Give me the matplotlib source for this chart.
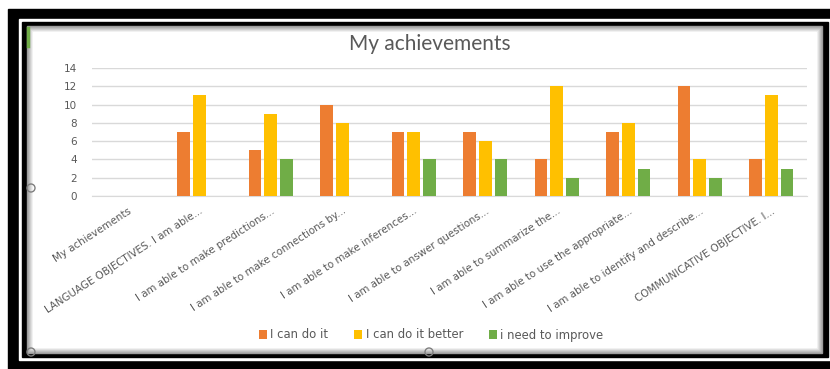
import numpy as np
import matplotlib.pyplot as plt
from matplotlib.patches import Rectangle, Circle

# datos
categorias = ["My achievements",
              "LANGUAGE OBJECTIVES. I am able...",
              "I am able to make predictions...",
              "I am able to make connections by...",
              "I am able to make inferences...",
              "I am able to answer questions...",
              "I am able to summarize the...",
              "I am able to use the appropriate...",
              "I am able to identify and describe...",
              "COMMUNICATIVE OBJECTIVE. I..."]
can_do = [0, 7, 5, 10, 7, 7, 4, 7, 12, 4]
can_do_better = [0, 11, 9, 8, 7, 6, 12, 8, 4, 11]
need_improve = [0, 0, 4, 0, 4, 4, 2, 3, 2, 3]
series_names = ["I can do it", "I can do it better", "i need to improve"]
colores = ["#ED7D31", "#FFC000", "#70AD47"]

W, H = 830, 369
fig = plt.figure(figsize=(W / 100, H / 100), dpi=100)
fig.patch.set_facecolor("white")

# marco (coordenadas en pixeles)
bg = fig.add_axes([0, 0, 1, 1])
bg.set_xlim(0, W)
bg.set_ylim(H, 0)
bg.axis("off")
bg.add_patch(Rectangle((8, 9), W - 8, H - 9, color="black"))
bg.add_patch(Rectangle((19, 19), W - 19, 341, color="white"))
bg.add_patch(Rectangle((22, 22), 806, 335, color="black"))
# sombra del grafico
for i, g in enumerate(np.linspace(0.6, 1.0, 7)):
    bg.add_patch(Rectangle((27 + i, 26 + i), 795 - 2 * i, 327 - 2 * i,
                           color=(g, g, g)))
bg.add_patch(Rectangle((34, 33), 781, 313, color="white"))
bg.plot([28, 28], [28, 46], color="#70AD47", lw=2.5)
for cx, cy in [(31, 188), (31, 352), (429, 352)]:
    bg.add_patch(Circle((cx, cy), 4, fill=False, ec="#7f7f7f", lw=1))

ax = fig.add_axes([92 / W, 1 - 196 / H, (807 - 92) / W, (196 - 68) / H])
ax.set_facecolor("none")
x = np.arange(len(categorias))
w = 0.18
off = 0.22
for k, vals in enumerate([can_do, can_do_better, need_improve]):
    ax.bar(x + (k - 1) * off, vals, w, color=colores[k], label=series_names[k],
           zorder=3)

ax.set_xlim(-0.5, len(categorias) - 0.5)
ax.set_ylim(0, 14)
ax.set_yticks(range(0, 15, 2))
ax.yaxis.grid(True, color="#d9d9d9", lw=1)
ax.set_axisbelow(True)
for s in ["top", "right", "left"]:
    ax.spines[s].set_visible(False)
ax.spines["bottom"].set_color("#d9d9d9")
ax.tick_params(length=0, colors="#595959", labelsize=7.5)
ax.tick_params(axis="y", pad=11)
ax.tick_params(axis="x", pad=7)
ax.set_xticks(x)
ax.set_xticklabels(categorias, rotation=33, ha="right", rotation_mode="anchor",
                   fontsize=7.4, color="#595959")

fig.text(430 / W, 1 - 44 / H, "My achievements", ha="center", va="center",
         fontsize=15, color="#595959", family="Lato")

fig.legend(loc="center", bbox_to_anchor=(431 / W, 1 - 335 / H), ncol=3,
           frameon=False, fontsize=8.4, labelcolor="#595959",
           handlelength=0.7, handleheight=0.7, handletextpad=0.3,
           columnspacing=2.2)

fig.savefig("out.png", dpi=100)
